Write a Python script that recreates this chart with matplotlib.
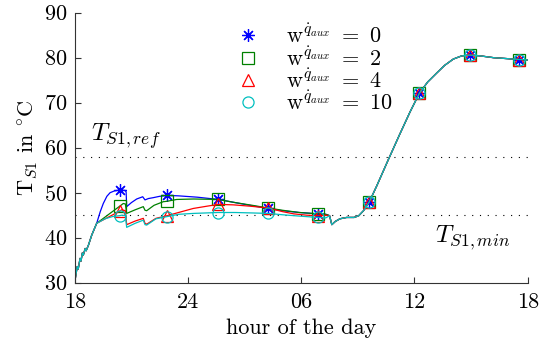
import numpy as np
import matplotlib
matplotlib.use("Agg")
import matplotlib.pyplot as plt

plt.rcParams['font.family'] = ['cmr10', 'DejaVu Serif']
plt.rcParams['mathtext.fontset'] = 'cm'
plt.rcParams['axes.formatter.use_mathtext'] = True

# ---- data (hour of day, 18 -> 42 == 18 next day) ----
head_h = [18.0, 18.08, 18.13, 18.18, 18.28, 18.33, 18.4, 18.45, 18.55, 18.6, 18.72, 18.9, 19.16]
head_T = [30.2, 32.3, 33.6, 33.0, 35.4, 34.8, 36.6, 36.1, 37.6, 37.1, 38.3, 40.6, 43.2]

tail_h = [31.5, 31.62, 31.8, 32.05, 32.4, 32.8, 33.05, 33.3, 33.6, 34.0, 34.6, 35.2, 35.76,
          36.26, 36.7, 37.18, 37.6, 38.06, 38.5, 38.94, 39.5, 40.2, 40.9, 41.56, 42.0]
tail_T = [44.9, 42.9, 43.6, 44.2, 44.5, 44.5, 44.9, 46.0, 47.9, 51.5, 57.2, 62.8, 67.9,
          72.1, 74.6, 76.6, 78.3, 79.7, 80.4, 80.6, 80.4, 80.0, 79.8, 79.6, 79.5]

mid_h_w0 = [19.35, 19.51, 19.7, 19.87, 20.1, 20.38, 20.66, 20.72, 20.75, 21.0, 21.28, 21.6, 21.72,
            21.9, 22.16, 22.5, 22.9, 23.5, 24.5, 25.6, 26.5, 27.4, 28.25, 29.0, 29.9, 30.9, 31.3]
mid_T_w0 = [45.8, 47.6, 49.2, 50.0, 50.4, 50.6, 50.5, 50.2, 46.9, 47.8, 48.6, 49.1, 48.4,
            48.7, 48.9, 49.2, 49.4, 49.3, 49.0, 48.5, 47.8, 47.1, 46.5, 46.0, 45.6, 45.3, 45.2]

mid_h_w2 = [20.38, 20.57, 20.68, 20.75, 21.2, 21.63, 21.72, 21.81, 22.2, 22.69, 22.9, 23.4,
            24.3, 25.6, 26.5, 27.4, 28.25, 29.0, 29.9, 30.9, 31.3]
mid_T_w2 = [47.0, 47.6, 47.5, 45.4, 46.2, 46.9, 46.1, 46.0, 47.2, 48.0, 48.1, 48.5,
            48.6, 48.5, 47.8, 47.2, 46.6, 46.1, 45.6, 45.3, 45.2]

mid_h_w4 = [20.38, 20.48, 20.68, 20.75, 21.2, 21.63, 21.72, 21.81, 22.3, 22.9, 23.5, 24.28,
            25.0, 25.6, 26.4, 27.3, 28.25, 29.0, 29.6, 30.3, 30.9, 31.3]
mid_T_w4 = [45.9, 46.2, 46.0, 42.9, 43.7, 44.3, 43.2, 43.0, 44.3, 44.9, 45.6, 46.5,
            47.0, 47.4, 47.3, 47.0, 46.6, 45.8, 45.3, 45.0, 44.9, 45.0]

mid_h_w10 = [19.6, 20.0, 20.38, 20.48, 20.68, 20.75, 21.2, 21.63, 21.72, 21.81, 22.3, 22.9,
             23.5, 24.3, 25.6, 26.5, 27.4, 28.25, 29.0, 29.9, 30.9, 31.3]
mid_T_w10 = [44.2, 44.7, 44.9, 45.0, 44.9, 42.3, 43.2, 43.9, 42.9, 42.8, 44.2, 44.7,
             45.2, 45.4, 45.6, 45.6, 45.5, 45.4, 45.1, 44.8, 44.5, 44.4]

marker_hours = [20.38, 22.9, 25.6, 28.25, 30.9, 33.6, 36.26, 38.94, 41.56]

T_ref = 58
T_min = 45

x_ticks = [18, 24, 30, 36, 42]
x_ticklabels = ['18', '24', '06', '12', '18']
y_ticks = [30, 40, 50, 60, 70, 80, 90]

series = [
    (r'w$^{\dot{q}_{aux}}\ =\ 0$', mid_h_w0, mid_T_w0, '#0000FF', (8, 2, 0)),
    (r'w$^{\dot{q}_{aux}}\ =\ 2$', mid_h_w2, mid_T_w2, '#008000', 's'),
    (r'w$^{\dot{q}_{aux}}\ =\ 4$', mid_h_w4, mid_T_w4, '#FF0000', '^'),
    (r'w$^{\dot{q}_{aux}}\ =\ 10$', mid_h_w10, mid_T_w10, '#00BFBF', 'o'),
]

fig = plt.figure(figsize=(5.4, 3.47), dpi=100)
ax = fig.add_axes([0.1385, 0.1853, 0.8387, 0.7781])

ax.plot([18, 42], [T_ref, T_ref], color='black', lw=0.8, ls=(0, (1, 6)))
ax.plot([18, 42], [T_min, T_min], color='black', lw=0.8, ls=(0, (1, 6)))

for label, mh, mT, col, mk in series:
    h = np.array(head_h + mh + tail_h)
    T = np.array(head_T + mT + tail_T)
    idx = [int(np.argmin(np.abs(h - m))) for m in marker_hours]
    ms = 9 if mk == (8, 2, 0) else 8
    ax.plot(h, T, color=col, lw=0.9, marker=mk, markevery=idx, ms=ms,
            mfc='none', mec=col, mew=0.9)
    ax.plot([], [], ls='none', marker=mk, ms=ms, mfc='none', mec=col, mew=0.9, label=label)

ax.text(18.88, 61.6, r'$T_{S1,ref}$', fontsize=18)
ax.text(37.1, 38.9, r'$T_{S1,min}$', fontsize=18)

ax.set_xlim(18, 42)
ax.set_ylim(30, 90)
ax.set_xticks(x_ticks)
ax.set_xticklabels(x_ticklabels)
ax.set_yticks(y_ticks)
ax.tick_params(direction='in', length=4, labelsize=16, color='#333333')
ax.tick_params(axis='x', pad=7)
ax.tick_params(axis='y', pad=5)
for s in ['top', 'right']:
    ax.spines[s].set_visible(False)
for s in ['left', 'bottom']:
    ax.spines[s].set_color('#333333')
    ax.spines[s].set_linewidth(0.8)

ax.set_xlabel('hour of the day', fontsize=16, labelpad=5)
ax.set_ylabel(r'T$_{S1}$ in $^{\circ}$C', fontsize=16, labelpad=4)

leg = ax.legend(loc='upper left', bbox_to_anchor=(0.3, 1.058), frameon=False, fontsize=16,
                handlelength=1.0, handletextpad=1.2, labelspacing=-0.05, borderaxespad=0.8)

fig.savefig('out.png', dpi=100)
